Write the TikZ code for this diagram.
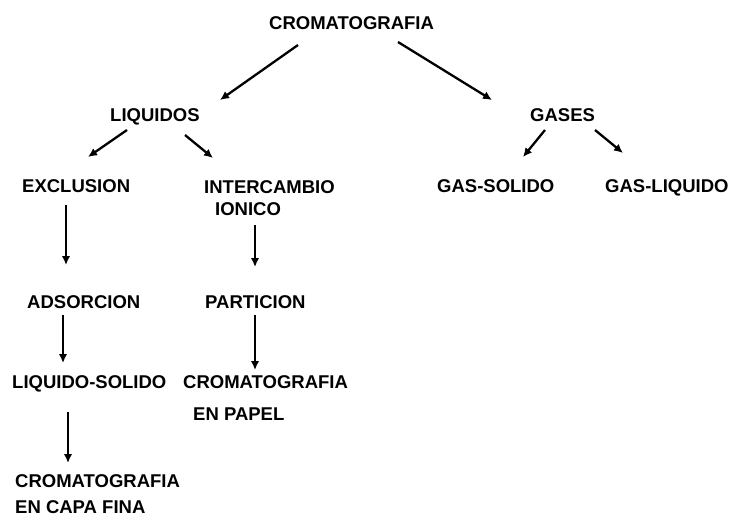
\documentclass[tikz,border=0pt]{standalone}
\usepackage{fontspec}
\setmainfont{Liberation Sans}
\usetikzlibrary{arrows.meta}
\begin{document}
\begin{tikzpicture}[x=1pt,y=-1pt,
  lbl/.style={anchor=base west,inner sep=0pt,font=\fontsize{18.5}{20.5}\selectfont\bfseries,align=left},
  arr/.style={line width=2.3pt,-{Latex[length=9pt,width=8.5pt]}}]
\useasboundingbox (0,0) rectangle (729,516);
\node[lbl] (crom) at (269,30) {CROMATOGRAFIA};
\node[lbl] (liq) at (110,122) {LIQUIDOS};
\node[lbl] (gas) at (530,122) {GASES};
\node[lbl] (excl) at (22,193) {EXCLUSION};
\node[lbl] (inter) at (204,216) {INTERCAMBIO\\[2.5pt]\hspace{11pt}IONICO};
\node[lbl] (gsol) at (437,193) {GAS-SOLIDO};
\node[lbl] (gliq) at (605,193) {GAS-LIQUIDO};
\node[lbl] (ads) at (27,308) {ADSORCION};
\node[lbl] (part) at (205,308) {PARTICION};
\node[lbl] (lsol) at (12,388) {LIQUIDO-SOLIDO};
\node[lbl] (papel) at (183,420) {CROMATOGRAFIA\\[11.5pt]\hspace{10pt}EN PAPEL};
\node[lbl] (capa) at (15,513) {CROMATOGRAFIA\\[5.5pt]EN CAPA FINA};
\draw[arr] ([shift={(29,15)}]crom.base west) -- ([shift={(110,-22)}]liq.base west);
\draw[arr] ([shift={(129,12)}]crom.base west) -- ([shift={(-38,-22)}]gas.base west);
\draw[arr] ([shift={(17,8)}]liq.base west) -- ([shift={(66,-36)}]excl.base west);
\draw[arr] ([shift={(75,13)}]liq.base west) -- ([shift={(9,-58)}]inter.base west);
\draw[arr] ([shift={(15,8)}]gas.base west) -- ([shift={(86,-36)}]gsol.base west);
\draw[arr] ([shift={(65,8)}]gas.base west) -- ([shift={(18,-40)}]gliq.base west);
\draw[arr] ([shift={(44,12)}]excl.base west) -- ([shift={(39,-43)}]ads.base west);
\draw[arr] ([shift={(51,9)}]inter.base west) -- ([shift={(50,-41)}]part.base west);
\draw[arr] ([shift={(36,7)}]ads.base west) -- ([shift={(51,-25)}]lsol.base west);
\draw[arr] ([shift={(50,7)}]part.base west) -- ([shift={(72,-50)}]papel.base west);
\draw[arr] ([shift={(56,24)}]lsol.base west) -- ([shift={(53,-50)}]capa.base west);
\end{tikzpicture}
\end{document}
